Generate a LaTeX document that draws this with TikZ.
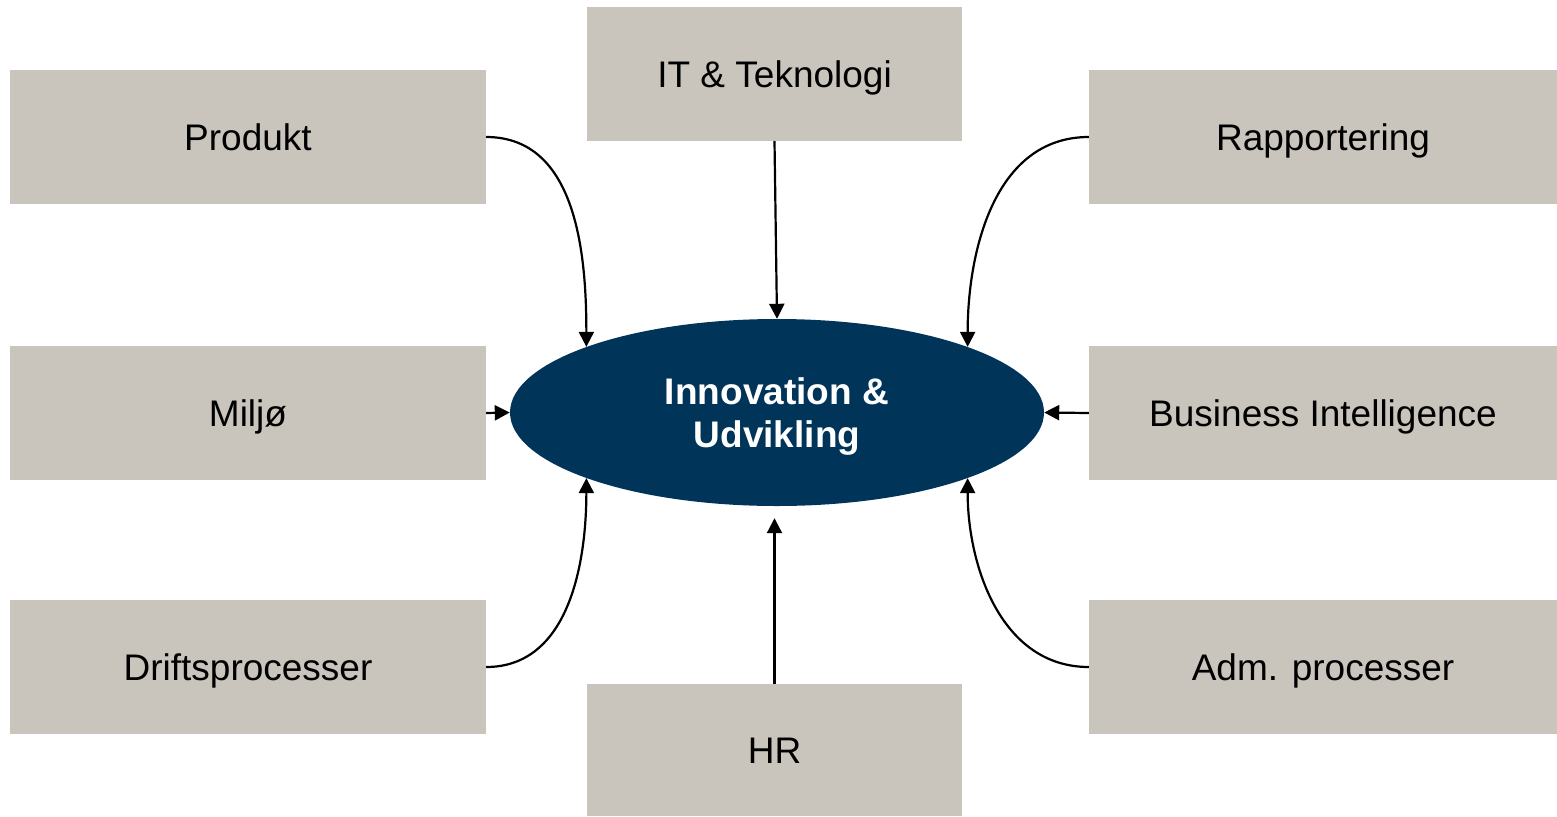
\documentclass[tikz,border=0pt]{standalone}
\usepackage{fontspec}
\setmainfont{Liberation Sans}
\usetikzlibrary{arrows.meta,shapes.geometric}
\definecolor{boxgray}{RGB}{201,197,189}
\definecolor{navy}{RGB}{0,52,89}
\begin{document}
\begin{tikzpicture}[x=1pt,y=-1pt,
  area/.style={fill=boxgray,draw=none,inner sep=0pt,font=\fontsize{37}{43}\selectfont,
    text height=26.5pt,text depth=0pt},
  sidebox/.style={area,minimum width=476pt,minimum height=134pt},
  midbox/.style={area,minimum width=375pt,minimum height=134pt},
  hub/.style={ellipse,fill=navy,draw=none,inner sep=0pt,minimum width=534pt,minimum height=187pt,
    text=white,align=center,text depth=0pt,font=\fontsize{37}{43}\selectfont\bfseries},
  link/.style={line width=2.2pt,-{Triangle[length=15pt,width=15pt]}}]
\useasboundingbox (0,0) rectangle (1557,816);
% central hub
\node[hub] (ell) at (777,412.5) {Innovation \&\\Udvikling};
% left column
\node[sidebox] (prod)  at (248,137) {Produkt};
\node[sidebox] (milj)  at (248,413) {Miljø};
\node[sidebox] (drift) at (248,667) {Driftsprocesser};
% top and bottom
\node[midbox] (it) at (774.5,74) {IT \& Teknologi};
\node[midbox,minimum height=132pt] (hr) at (774.5,750) {HR};
% right column
\node[sidebox,minimum width=468pt] (rapp) at (1323,137) {Rapportering};
\node[sidebox,minimum width=468pt] (bi)   at (1323,413) {Business Intelligence};
\node[sidebox,minimum width=468pt] (adm)  at (1323,667) {Adm. processer};
% connectors
\draw[link] (prod.east) to[out=0,in=90] (ell.161);
\draw[link] (milj.east) -- (ell.west);
\draw[link] (drift.east) to[out=0,in=-90] (ell.199);
\draw[link] (it.south) -- (ell.north);
\draw[link,shorten >=12pt] (hr.north) -- (hr.north |- ell.south);
\draw[link] (rapp.west) to[out=180,in=90] (ell.19.3);
\draw[link] (bi.west) -- (ell.east);
\draw[link] (adm.west) to[out=180,in=-90] (ell.-19.3);
\end{tikzpicture}
\end{document}
